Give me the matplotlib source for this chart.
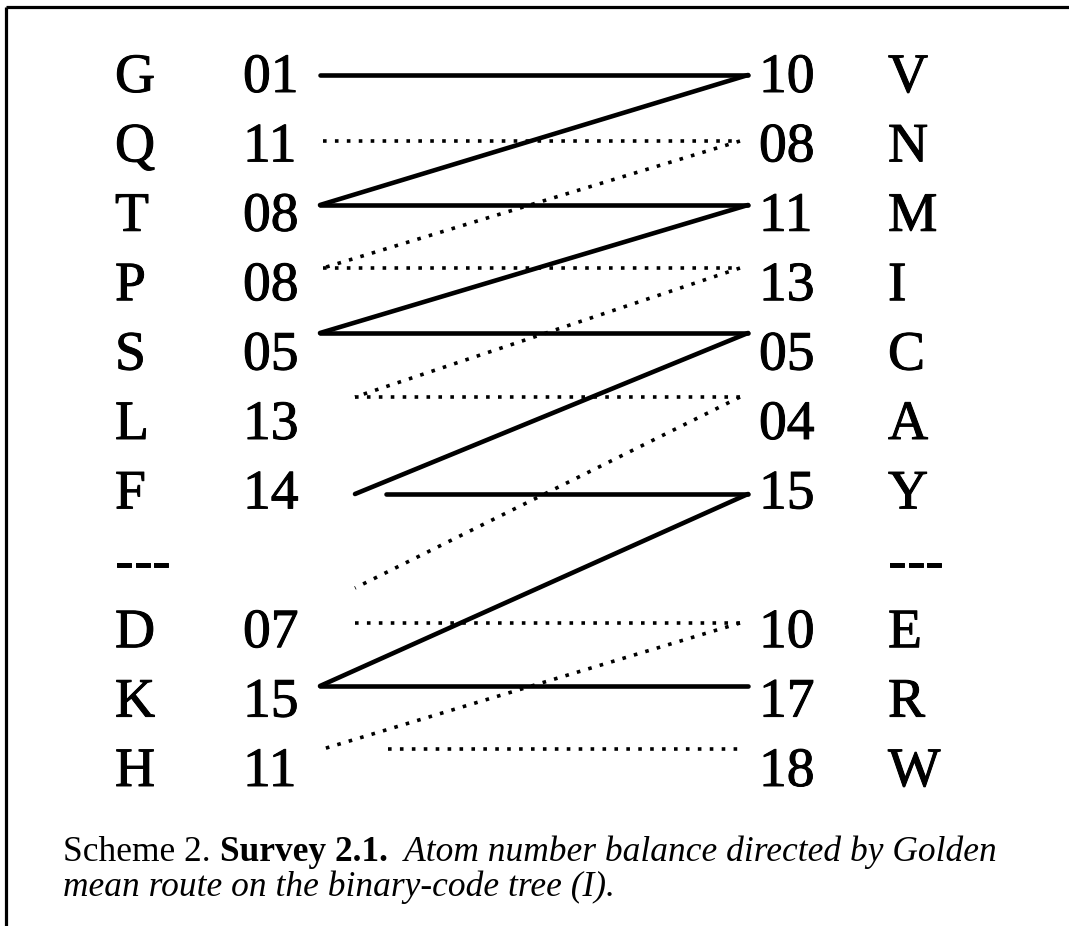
import matplotlib
matplotlib.use("Agg")
import matplotlib.pyplot as plt
import matplotlib.patheffects as pe

# ---------------- data ----------------
left_letters = ["G", "Q", "T", "P", "S", "L", "F", "---", "D", "K", "H"]
left_codes = ["01", "11", "08", "08", "05", "13", "14", "", "07", "15", "11"]
right_codes = ["10", "08", "11", "13", "05", "04", "15", "", "10", "17", "18"]
right_letters = ["V", "N", "M", "I", "C", "A", "Y", "---", "E", "R", "W"]

# route links: (row_from, side_from, row_to, side_to)
solid_links = [(0, "L", 0, "R"), (0, "R", 2, "L"), (2, "L", 2, "R"), (2, "R", 4, "L"),
               (4, "L", 4, "R"), (4, "R", 6, "L"), (6, "L", 6, "R"), (6, "R", 9, "L"),
               (9, "L", 9, "R")]
dotted_links = [(1, "L", 1, "R"), (1, "R", 3, "L"), (3, "L", 3, "R"), (3, "R", 5, "L"),
                (5, "L", 5, "R"), (5, "R", 7, "L"), (8, "L", 8, "R"), (8, "R", 10, "L"),
                (10, "L", 10, "R")]

caption_parts = [("Scheme 2. ", "normal", "normal"),
                 ("Survey 2.1.", "bold", "normal"),
                 ("  Atom number balance directed by Golden", "normal", "italic")]
caption_line2 = "mean route on the binary-code tree (I)."

# ---------------- layout ----------------
W, H = 1069, 926
fig = plt.figure(figsize=(W / 100, H / 100), dpi=100)
ax = fig.add_axes([0, 0, 1, 1])
ax.set_xlim(0, W)
ax.set_ylim(H, 0)
ax.axis("off")

FONT = "Liberation Serif"
FS = 40
base0, step = 92, 69.4
x_lletter, x_lcode, x_rcode, x_rletter = 115, 243, 759, 888
heavy = [pe.withStroke(linewidth=0.7, foreground="black")]

# y positions of the route lines for each row
line_y = [75, 141, 205, 268, 333, 397, 494, 588, 623, 686, 749]


def left_x(row, start, solid):
    # left end positions of line segments
    if solid:
        if row == 6:
            return 386 if start else 355
        return 320
    if row in (5, 7, 8):
        return 355
    if row == 10:
        return 388 if start else 323
    return 323


RX_SOLID, RX_DOT = 748, 740

# borders
ax.plot([6, W], [7, 7], color="black", lw=2.3, solid_capstyle="butt")
ax.plot([6, 6], [7, H], color="black", lw=2.3, solid_capstyle="butt")

for i in range(len(left_letters)):
    yb = base0 + step * i
    for xx, s in ((x_lletter, left_letters[i]), (x_rletter, right_letters[i]),
                  (x_lcode, left_codes[i]), (x_rcode, right_codes[i])):
        if s:
            ax.text(xx, yb, s, fontsize=FS, family=FONT, ha="left", va="baseline",
                    path_effects=heavy)


def draw_links(links, solid):
    for (r0, s0, r1, s1) in links:
        horiz = r0 == r1
        xs, ys = [], []
        for (r, s) in ((r0, s0), (r1, s1)):
            if s == "L":
                xs.append(left_x(r, horiz, solid))
            else:
                xs.append(RX_SOLID if solid else RX_DOT)
            ys.append(line_y[r])
        if solid:
            ax.plot(xs, ys, color="black", lw=3.3, solid_capstyle="round",
                    solid_joinstyle="miter")
        else:
            ax.plot(xs, ys, color="black", lw=2.6, linestyle=(0, (1, 2.3)),
                    dash_capstyle="butt")


draw_links(solid_links, True)
draw_links(dotted_links, False)

# caption
CFS = 25.5
fig.canvas.draw()
renderer = fig.canvas.get_renderer()
x = 63
for txt, weight, style in caption_parts:
    t = ax.text(x, 861, txt, fontsize=CFS, family=FONT, weight=weight, style=style,
                ha="left", va="baseline")
    bb = t.get_window_extent(renderer=renderer)
    x += bb.width
ax.text(63, 896, caption_line2, fontsize=CFS, family=FONT, style="italic",
        ha="left", va="baseline")

fig.savefig("out.png", dpi=100)
